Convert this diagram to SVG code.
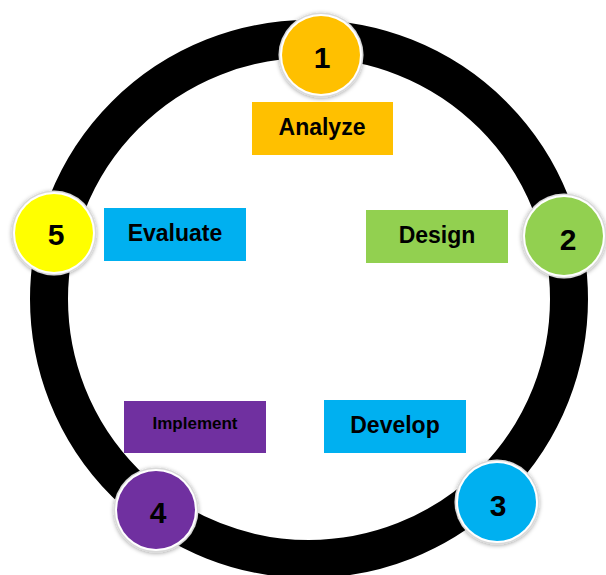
<svg xmlns="http://www.w3.org/2000/svg" width="606" height="575" viewBox="0 0 606 575">
<defs>
<filter id="sh" x="-30%" y="-30%" width="160%" height="160%">
<feGaussianBlur in="SourceAlpha" stdDeviation="2"/>
<feOffset dx="0" dy="1" result="b"/>
<feFlood flood-color="#000" flood-opacity="0.35"/>
<feComposite in2="b" operator="in"/>
<feMerge><feMergeNode/><feMergeNode in="SourceGraphic"/></feMerge>
</filter>
</defs>
<style>
.ring{fill:none;stroke:#000;stroke-width:38}
.rim{fill:#d9d9d9;filter:url(#sh)}
.wht{fill:#fff}
.num{font-family:"Liberation Sans",Arial,sans-serif;font-weight:bold;font-size:30px;fill:#000;text-anchor:middle}
.lbl{font-family:"Liberation Sans",Arial,sans-serif;font-weight:bold;font-size:23px;fill:#000;text-anchor:middle}
.sm{font-size:17px}
</style>
<rect width="606" height="575" fill="#fff"/>
<g id="connectors">
<circle class="ring" cx="309" cy="299" r="260"/>
</g>
<g id="node1">
<circle class="rim" cx="321" cy="55" r="42.5"/>
<circle class="wht" cx="321" cy="55" r="41"/>
<circle cx="321" cy="55" r="39" fill="#FFC000"/>
<text class="num" x="322" y="68">1</text>
</g>
<g id="node2">
<circle class="rim" cx="564" cy="236" r="42.5"/>
<circle class="wht" cx="564" cy="236" r="41"/>
<circle cx="564" cy="236" r="39" fill="#92D050"/>
<text class="num" x="568" y="250">2</text>
</g>
<g id="node3">
<circle class="rim" cx="497" cy="502" r="42.5"/>
<circle class="wht" cx="497" cy="502" r="41"/>
<circle cx="497" cy="502" r="39" fill="#00B0F0"/>
<text class="num" x="498" y="516">3</text>
</g>
<g id="node4">
<circle class="rim" cx="156" cy="510" r="42.5"/>
<circle class="wht" cx="156" cy="510" r="41"/>
<circle cx="156" cy="510" r="39" fill="#7030A0"/>
<text class="num" x="158" y="523">4</text>
</g>
<g id="node5">
<circle class="rim" cx="54" cy="233" r="42.5"/>
<circle class="wht" cx="54" cy="233" r="41"/>
<circle cx="54" cy="233" r="39" fill="#FFFF00"/>
<text class="num" x="56" y="245">5</text>
</g>
<g id="label-analyze">
<rect x="252" y="102" width="141" height="53" fill="#FFC000"/>
<text class="lbl" x="322" y="135">Analyze</text>
</g>
<g id="label-design">
<rect x="366" y="210" width="142" height="53" fill="#92D050"/>
<text class="lbl" x="437" y="243">Design</text>
</g>
<g id="label-develop">
<rect x="324" y="400" width="142" height="53" fill="#00B0F0"/>
<text class="lbl" x="395" y="433">Develop</text>
</g>
<g id="label-implement">
<rect x="124" y="401" width="142" height="52" fill="#7030A0"/>
<text class="lbl sm" x="195" y="429">Implement</text>
</g>
<g id="label-evaluate">
<rect x="104" y="208" width="142" height="53" fill="#00B0F0"/>
<text class="lbl" x="175" y="241">Evaluate</text>
</g>
</svg>
